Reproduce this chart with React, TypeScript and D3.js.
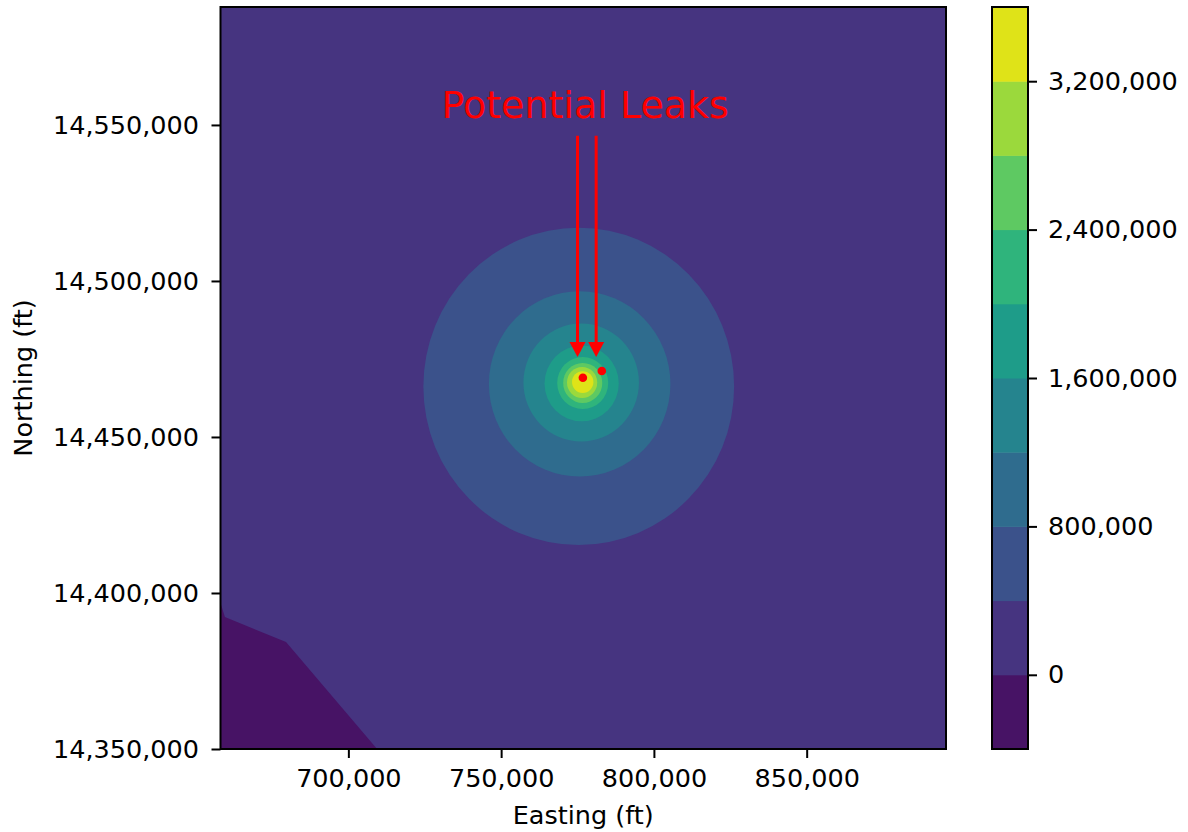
import React, { useRef, useEffect } from 'react';
import * as d3 from 'd3';

const eastingDomain = [658150, 895600];
const northingDomain = [14350000, 14587800];
const eastingTicks = [700000, 750000, 800000, 850000];
const northingTicks = [14350000, 14400000, 14450000, 14500000, 14550000];

const levels = [-400000, 0, 400000, 800000, 1200000, 1600000, 2000000, 2400000, 2800000, 3200000, 3600000];
const colorbarTicks = [0, 800000, 1600000, 2400000, 3200000];

// closed contours round the leak, one per level from 400,000 up
const ringLevels = [400000, 800000, 1200000, 1600000, 2000000, 2400000, 2800000, 3200000];
const ringEasting = [775400, 775700, 776200, 776350, 776700, 776700, 776500, 776700];
const ringNorthing = [14466200, 14467000, 14467450, 14467150, 14467300, 14467300, 14467450, 14467600];
const ringRadius = [50850, 29700, 18900, 12150, 8350, 6400, 4950, 3500];

// region below 0 in the south-west corner
const lowEasting = [658150, 659600, 679600, 709400, 658150];
const lowNorthing = [14396800, 14392300, 14384300, 14350000, 14350000];

const leakEasting = [776750, 782950];
const leakNorthing = [14469000, 14471150];
const arrowTipEasting = [775000, 781100];
const arrowTipNorthing = [14475650, 14475650];
const arrowStartNorthing = 14546500;
const labelEasting = 777500;
const labelNorthing = 14552250;

const W = 1188;
const H = 832;
const plot = { left: 220.5, right: 946, top: 7, bottom: 749 };
const bar = { left: 992, width: 36 };
const FONT = 'DejaVu Sans, sans-serif';
const TICK_FONT = 25.5;

const App: React.FC = () => {
  const svgRef = useRef<SVGSVGElement>(null);

  useEffect(() => {
    if (!svgRef.current) return;
    const svg = d3.select(svgRef.current);
    svg.selectAll('*').remove();

    const x = d3.scaleLinear().domain(eastingDomain).range([plot.left, plot.right]);
    const y = d3.scaleLinear().domain(northingDomain).range([plot.bottom, plot.top]);
    const bandColor = (i: number) => d3.interpolateViridis((i + 0.5) / (levels.length - 1));
    const fmt = d3.format(',');

    svg.append('defs').append('clipPath').attr('id', 'plot-clip')
      .append('rect')
      .attr('x', plot.left).attr('y', plot.top)
      .attr('width', plot.right - plot.left).attr('height', plot.bottom - plot.top);

    const g = svg.append('g').attr('clip-path', 'url(#plot-clip)');

    // background band 0 .. 400,000
    g.append('rect')
      .attr('x', plot.left).attr('y', plot.top)
      .attr('width', plot.right - plot.left).attr('height', plot.bottom - plot.top)
      .attr('fill', bandColor(1));

    const lowPts = lowEasting.map((e, i) => [x(e), y(lowNorthing[i])] as [number, number]);
    g.append('path')
      .attr('d', d3.line().curve(d3.curveLinearClosed)(lowPts))
      .attr('fill', bandColor(0));

    g.selectAll('ellipse.ring')
      .data(ringLevels)
      .join('ellipse')
      .attr('class', 'ring')
      .attr('cx', (_, i) => x(ringEasting[i]))
      .attr('cy', (_, i) => y(ringNorthing[i]))
      .attr('rx', (_, i) => x(ringEasting[i] + ringRadius[i]) - x(ringEasting[i]))
      .attr('ry', (_, i) => y(ringNorthing[i]) - y(ringNorthing[i] + ringRadius[i]))
      .attr('fill', d => bandColor(levels.indexOf(d)));

    // leak markers
    g.selectAll('circle.leak')
      .data(leakEasting)
      .join('circle')
      .attr('class', 'leak')
      .attr('cx', d => x(d))
      .attr('cy', (_, i) => y(leakNorthing[i]))
      .attr('r', 4.3)
      .attr('fill', '#ff0000');

    // arrows
    const headLen = 15;
    const headHalf = 8;
    arrowTipEasting.forEach((e, i) => {
      const tx = x(e);
      const ty = y(arrowTipNorthing[i]);
      g.append('line')
        .attr('x1', tx).attr('x2', tx)
        .attr('y1', y(arrowStartNorthing)).attr('y2', ty - headLen + 1)
        .attr('stroke', '#ff0000').attr('stroke-width', 3);
      g.append('path')
        .attr('d', `M${tx - headHalf},${ty - headLen}L${tx + headHalf},${ty - headLen}L${tx},${ty}Z`)
        .attr('fill', '#ff0000');
    });

    g.append('text')
      .attr('x', x(labelEasting)).attr('y', y(labelNorthing))
      .attr('text-anchor', 'middle')
      .attr('font-family', FONT).attr('font-size', 38)
      .attr('fill', '#ff0000')
      .text('Potential Leaks');

    // axes
    const xAxis = svg.append('g')
      .attr('transform', `translate(0,${plot.bottom})`)
      .call(d3.axisBottom(x).tickValues(eastingTicks).tickFormat(d => fmt(d as number)).tickSize(9).tickPadding(11));
    const yAxis = svg.append('g')
      .attr('transform', `translate(${plot.left},0)`)
      .call(d3.axisLeft(y).tickValues(northingTicks).tickFormat(d => fmt(d as number)).tickSize(9).tickPadding(12.5));
    [xAxis, yAxis].forEach(ax => {
      ax.select('.domain').remove();
      ax.selectAll('line').attr('stroke', '#000').attr('stroke-width', 2);
      ax.selectAll('text').attr('font-family', FONT).attr('font-size', TICK_FONT).attr('fill', '#000');
    });

    svg.append('rect')
      .attr('x', plot.left).attr('y', plot.top)
      .attr('width', plot.right - plot.left).attr('height', plot.bottom - plot.top)
      .attr('fill', 'none').attr('stroke', '#000').attr('stroke-width', 2);

    svg.append('text')
      .attr('x', (plot.left + plot.right) / 2).attr('y', 824)
      .attr('text-anchor', 'middle')
      .attr('font-family', FONT).attr('font-size', TICK_FONT)
      .text('Easting (ft)');
    svg.append('text')
      .attr('transform', `translate(31.5,${(plot.top + plot.bottom) / 2}) rotate(-90)`)
      .attr('text-anchor', 'middle')
      .attr('font-family', FONT).attr('font-size', TICK_FONT)
      .text('Northing (ft)');

    // colorbar
    const cy = d3.scaleLinear().domain([levels[0], levels[levels.length - 1]]).range([plot.bottom, plot.top]);
    svg.selectAll('rect.band')
      .data(levels.slice(0, -1))
      .join('rect')
      .attr('class', 'band')
      .attr('x', bar.left)
      .attr('width', bar.width)
      .attr('y', (_, i) => cy(levels[i + 1]))
      .attr('height', (_, i) => cy(levels[i]) - cy(levels[i + 1]) + 0.5)
      .attr('fill', (_, i) => bandColor(i));
    svg.append('rect')
      .attr('x', bar.left).attr('y', plot.top)
      .attr('width', bar.width).attr('height', plot.bottom - plot.top)
      .attr('fill', 'none').attr('stroke', '#000').attr('stroke-width', 2);
    const cAxis = svg.append('g')
      .attr('transform', `translate(${bar.left + bar.width},0)`)
      .call(d3.axisRight(cy).tickValues(colorbarTicks).tickFormat(d => fmt(d as number)).tickSize(9).tickPadding(11));
    cAxis.select('.domain').remove();
    cAxis.selectAll('line').attr('stroke', '#000').attr('stroke-width', 2);
    cAxis.selectAll('text').attr('font-family', FONT).attr('font-size', TICK_FONT).attr('fill', '#000');
  }, []);

  return (
    <svg
      ref={svgRef}
      width={W}
      height={H}
      style={{ position: 'absolute', left: 0, top: 0, background: '#fff' }}
    />
  );
};

export default App;
